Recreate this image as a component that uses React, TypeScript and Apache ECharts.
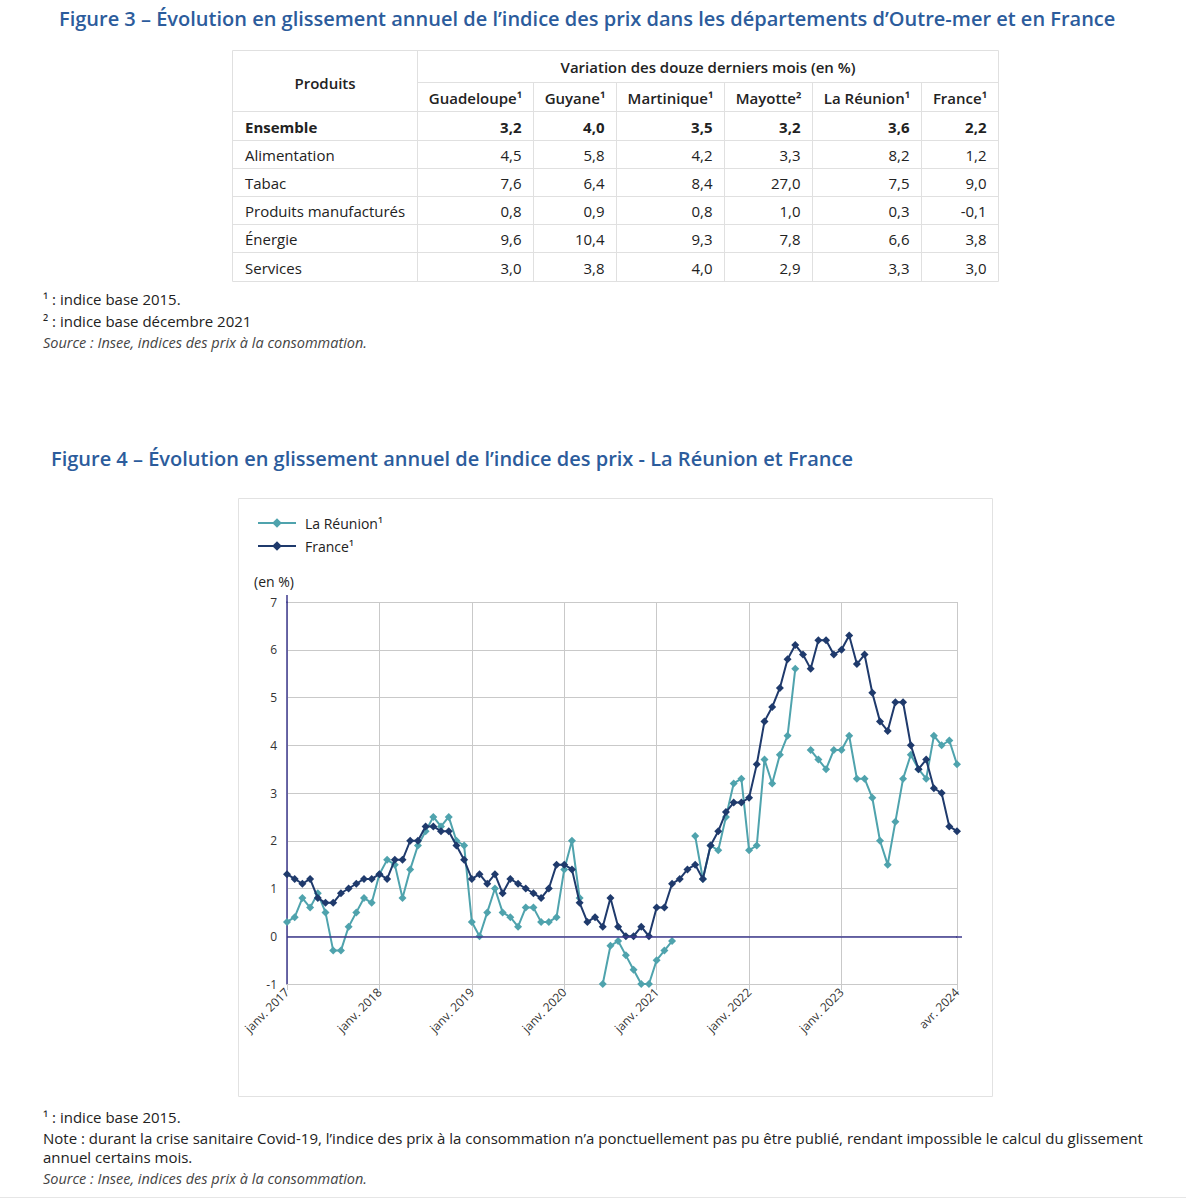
import React, { useEffect, useRef } from "react";
import * as echarts from "echarts";

// ---------- Figure 3 : table data ----------
const tableRegions = ["Guadeloupe¹", "Guyane¹", "Martinique¹", "Mayotte²", "La Réunion¹", "France¹"];
const tableProducts = ["Ensemble", "Alimentation", "Tabac", "Produits manufacturés", "Énergie", "Services"];
const rowEnsemble = ["3,2", "4,0", "3,5", "3,2", "3,6", "2,2"];
const rowAlimentation = ["4,5", "5,8", "4,2", "3,3", "8,2", "1,2"];
const rowTabac = ["7,6", "6,4", "8,4", "27,0", "7,5", "9,0"];
const rowManufactures = ["0,8", "0,9", "0,8", "1,0", "0,3", "-0,1"];
const rowEnergie = ["9,6", "10,4", "9,3", "7,8", "6,6", "3,8"];
const rowServices = ["3,0", "3,8", "4,0", "2,9", "3,3", "3,0"];
const tableRows = [rowEnsemble, rowAlimentation, rowTabac, rowManufactures, rowEnergie, rowServices];

// ---------- Figure 4 : series data (monthly, janv. 2017 -> avr. 2024) ----------
const monthNames = ["janv.", "févr.", "mars", "avr.", "mai", "juin", "juil.", "août", "sept.", "oct.", "nov.", "déc."];
const years = [2017, 2018, 2019, 2020, 2021, 2022, 2023, 2024];
const categories: string[] = [];
years.forEach((y) => monthNames.forEach((m) => categories.push(m + " " + y)));
categories.length = 88;

// labelled months on the x axis
const labelledMonths = ["janv. 2017", "janv. 2018", "janv. 2019", "janv. 2020", "janv. 2021", "janv. 2022", "janv. 2023", "avr. 2024"];

const reunion: (number | null)[] = [
  0.3, 0.4, 0.8, 0.6, 0.9, 0.5, -0.3, -0.3, 0.2, 0.5, 0.8, 0.7,
  1.3, 1.6, 1.5, 0.8, 1.4, 1.9, 2.2, 2.5, 2.3, 2.5, 2.0, 1.9,
  0.3, 0.0, 0.5, 1.0, 0.5, 0.4, 0.2, 0.6, 0.6, 0.3, 0.3, 0.4,
  1.4, 2.0, 0.8, null, null, -1.0, -0.2, -0.1, -0.4, -0.7, -1.0, -1.0,
  -0.5, -0.3, -0.1, null, null, 2.1, 1.2, 1.9, 1.8, 2.5, 3.2, 3.3,
  1.8, 1.9, 3.7, 3.2, 3.8, 4.2, 5.6, null, 3.9, 3.7, 3.5, 3.9,
  3.9, 4.2, 3.3, 3.3, 2.9, 2.0, 1.5, 2.4, 3.3, 3.8, 3.5, 3.3,
  4.2, 4.0, 4.1, 3.6,
];

const france: number[] = [
  1.3, 1.2, 1.1, 1.2, 0.8, 0.7, 0.7, 0.9, 1.0, 1.1, 1.2, 1.2,
  1.3, 1.2, 1.6, 1.6, 2.0, 2.0, 2.3, 2.3, 2.2, 2.2, 1.9, 1.6,
  1.2, 1.3, 1.1, 1.3, 0.9, 1.2, 1.1, 1.0, 0.9, 0.8, 1.0, 1.5,
  1.5, 1.4, 0.7, 0.3, 0.4, 0.2, 0.8, 0.2, 0.0, 0.0, 0.2, 0.0,
  0.6, 0.6, 1.1, 1.2, 1.4, 1.5, 1.2, 1.9, 2.2, 2.6, 2.8, 2.8,
  2.9, 3.6, 4.5, 4.8, 5.2, 5.8, 6.1, 5.9, 5.6, 6.2, 6.2, 5.9,
  6.0, 6.3, 5.7, 5.9, 5.1, 4.5, 4.3, 4.9, 4.9, 4.0, 3.5, 3.7,
  3.1, 3.0, 2.3, 2.2,
];

const yTicks = { min: -1, max: 7, interval: 1 };

// ---------- texts ----------
const title3 = "Figure 3 – Évolution en glissement annuel de l’indice des prix dans les départements d’Outre-mer et en France";
const title4 = "Figure 4 – Évolution en glissement annuel de l’indice des prix - La Réunion et France";
const headProduits = "Produits";
const headVariation = "Variation des douze derniers mois (en %)";
const notes3 = ["¹ : indice base 2015.", "² : indice base décembre 2021"];
const sourceText = "Source : Insee, indices des prix à la consommation.";
const notes4 = [
  "¹ : indice base 2015.",
  "Note : durant la crise sanitaire Covid-19, l’indice des prix à la consommation n’a ponctuellement pas pu être publié, rendant impossible le calcul du glissement",
  "annuel certains mois.",
];

const FONT = '"Open Sans", "Noto Sans", sans-serif';
const TITLE_COLOR = "#2C5C9C";
const TEXT_COLOR = "#222222";
const GRID_COLOR = "#c9c9c9";
const TABLE_LINE = "#e0e0e0";
const AXIS_PURPLE = "#3E3A8E";
const COLOR_REUNION = "#4FA3AD";
const COLOR_FRANCE = "#1F3A6C";

function txt(x: number, y: number, text: string, o: any = {}) {
  const align = o.align || "left";
  return {
    type: "text",
    x,
    y,
    silent: true,
    z: 10,
    style: {
      text,
      fill: o.fill || TEXT_COLOR,
      fontSize: o.size || 15,
      fontFamily: FONT,
      fontWeight: o.weight || "normal",
      fontStyle: o.italic ? "italic" : "normal",
      align,
      verticalAlign: "middle",
      textAlign: align,
      textVerticalAlign: "middle",
    },
  };
}

function ln(x1: number, y1: number, x2: number, y2: number, stroke: string, w = 1) {
  return { type: "line", silent: true, z: 5, shape: { x1, y1, x2, y2 }, style: { stroke, lineWidth: w } };
}

function buildGraphics() {
  const g: any[] = [];
  // titles
  g.push(txt(59, 18, title3, { size: 20, weight: 600, fill: TITLE_COLOR }));
  g.push(txt(51, 458, title4, { size: 20, weight: 600, fill: TITLE_COLOR }));

  // table geometry
  const tL = 232.5, tR = 998.5, tT = 50.5, tB = 281.5;
  const colX = [417.5, 533.5, 616.5, 724.5, 812.5, 921.5, 998.5];
  const rowY = [111.5, 140.5, 168.5, 196.5, 224.5, 252.5, 281.5];
  const subHeadY = 82.5;
  g.push({ type: "rect", silent: true, z: 5, shape: { x: tL, y: tT, width: tR - tL, height: tB - tT }, style: { fill: "none", stroke: TABLE_LINE, lineWidth: 1 } });
  rowY.slice(0, -1).forEach((y) => g.push(ln(tL, y, tR, y, TABLE_LINE)));
  g.push(ln(colX[0], subHeadY, tR, subHeadY, TABLE_LINE));
  g.push(ln(colX[0], tT, colX[0], tB, TABLE_LINE));
  colX.slice(1, -1).forEach((x) => g.push(ln(x, subHeadY, x, tB, TABLE_LINE)));

  g.push(txt((tL + colX[0]) / 2, 83, headProduits, { weight: 600, size: 15, align: "center" }));
  g.push(txt((colX[0] + tR) / 2, 67, headVariation, { weight: 600, size: 15, align: "center" }));
  tableRegions.forEach((r, i) => {
    g.push(txt((colX[i] + colX[i + 1]) / 2, 98, r, { weight: 600, size: 15, align: "center" }));
  });
  tableProducts.forEach((p, ri) => {
    const cy = (rowY[ri] + rowY[ri + 1]) / 2 + 0.5;
    const bold = ri === 0;
    g.push(txt(245, cy, p, { weight: bold ? 700 : "normal", size: 15 }));
    tableRows[ri].forEach((v, ci) => {
      g.push(txt(colX[ci + 1] - 12, cy, v, { weight: bold ? 700 : "normal", size: 15, align: "right" }));
    });
  });

  // notes figure 3
  g.push(txt(43, 299, notes3[0], { size: 15 }));
  g.push(txt(43, 321, notes3[1], { size: 15 }));
  g.push(txt(43, 342, sourceText, { size: 14.5, italic: true, fill: "#444" }));

  // chart frame
  g.push({ type: "rect", silent: true, z: 0, shape: { x: 238.5, y: 498.5, width: 754, height: 598 }, style: { fill: "none", stroke: "#e2e2e2", lineWidth: 1 } });
  g.push(txt(254, 581, "(en %)", { size: 14 }));
  // axis overhangs (y axis above 7, zero line past the last month)
  g.push(ln(287, 595, 287, 603, AXIS_PURPLE, 1.5));
  g.push(ln(956, 937, 962, 937, AXIS_PURPLE, 1.5));

  // notes figure 4
  g.push(txt(43, 1117, notes4[0], { size: 15 }));
  g.push(txt(43, 1138, notes4[1], { size: 15 }));
  g.push(txt(43, 1157, notes4[2], { size: 15 }));
  g.push(txt(43, 1178, sourceText, { size: 14.5, italic: true, fill: "#444" }));

  g.push(ln(0, 1197.5, 1186, 1197.5, "#e6e6e6"));
  return g;
}

const tickShown = (i: number) => labelledMonths.indexOf(categories[i]) >= 0;

export default function App() {
  const ref = useRef<HTMLDivElement>(null);
  useEffect(() => {
    if (!ref.current) return;
    const chart = echarts.init(ref.current, undefined, { renderer: "svg" });
    chart.setOption({
      animation: false,
      backgroundColor: "#ffffff",
      textStyle: { fontFamily: FONT },
      graphic: { elements: buildGraphics() },
      legend: {
        orient: "vertical",
        left: 252,
        top: 511,
        itemWidth: 38,
        itemHeight: 12,
        itemGap: 9,
        textStyle: { fontSize: 14, color: TEXT_COLOR, fontFamily: FONT, padding: [0, 0, 0, 4] },
        data: ["La Réunion¹", "France¹"],
      },
      grid: { left: 287, top: 602, width: 670, height: 382, containLabel: false },
      xAxis: {
        type: "category",
        data: categories,
        boundaryGap: false,
        axisLine: { show: true, onZero: false, lineStyle: { color: GRID_COLOR, width: 1 } },
        axisTick: { show: true, interval: (i: number) => tickShown(i), length: 6, lineStyle: { color: GRID_COLOR } },
        axisLabel: {
          interval: (i: number) => tickShown(i),
          rotate: 45,
          fontSize: 12,
          color: "#333",
          margin: 6,
          fontFamily: FONT,
        },
        splitLine: { show: true, interval: (i: number) => tickShown(i), lineStyle: { color: GRID_COLOR, width: 1 } },
      },
      yAxis: {
        type: "value",
        min: yTicks.min,
        max: yTicks.max,
        interval: yTicks.interval,
        axisLine: { show: true, lineStyle: { color: AXIS_PURPLE, width: 1.5 } },
        axisTick: { show: false },
        axisLabel: { fontSize: 12, color: "#333", margin: 10, fontFamily: FONT },
        splitLine: { show: true, lineStyle: { color: GRID_COLOR, width: 1 } },
      },
      series: [
        {
          name: "La Réunion¹",
          type: "line",
          data: reunion,
          connectNulls: false,
          symbol: "diamond",
          symbolSize: 8,
          showAllSymbol: true,
          itemStyle: { color: COLOR_REUNION },
          lineStyle: { color: COLOR_REUNION, width: 2 },
          z: 3,
        },
        {
          name: "France¹",
          type: "line",
          data: france,
          symbol: "diamond",
          symbolSize: 8,
          showAllSymbol: true,
          itemStyle: { color: COLOR_FRANCE },
          lineStyle: { color: COLOR_FRANCE, width: 2 },
          z: 4,
          markLine: {
            silent: true,
            symbol: "none",
            label: { show: false },
            lineStyle: { color: AXIS_PURPLE, width: 1.5, type: "solid" },
            data: [{ yAxis: 0 }],
          },
        },
      ],
    });
    return () => chart.dispose();
  }, []);
  return (
    <div
      ref={ref}
      style={{ position: "absolute", left: 0, top: 0, width: 1186, height: 1200, background: "#fff" }}
    />
  );
}
